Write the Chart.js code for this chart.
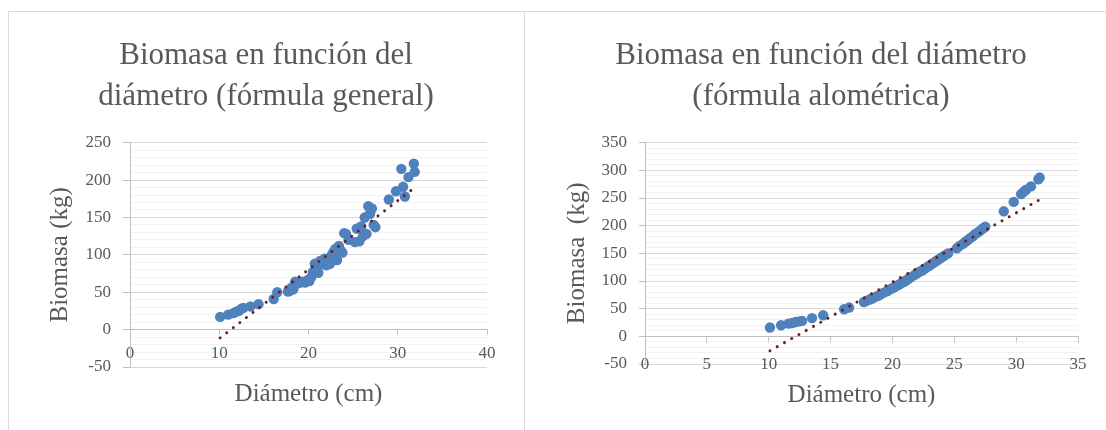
<!DOCTYPE html>
<html lang="es">
<head>
<meta charset="utf-8">
<script src="https://cdn.jsdelivr.net/npm/chart.js@4.4.1/dist/chart.umd.min.js"></script>
<style>
  body { margin: 0; background: #fff; width: 1106px; height: 430px; overflow: hidden; position: relative; }
  .marco { position: absolute; top: 11px; height: 419px; border-top: 1px solid #d9d9d9; }
  #marcoIzq { left: 8px; width: 515px; border-left: 1px solid #d9d9d9; border-right: 1px solid #d9d9d9; }
  #marcoDer { left: 524px; width: 582px; }
  canvas { position: absolute; top: 0; left: 0; }
</style>
</head>
<body>
<div class="marco" id="marcoIzq"><canvas id="general" width="515" height="418"></canvas></div>
<div class="marco" id="marcoDer"><canvas id="alometrica" width="581" height="418" style="left:1px"></canvas></div>
<script>
// diámetro (cm) de cada árbol, el mismo en las dos gráficas
const diametros = [
  10.1, 11.0, 11.6, 11.9, 12.2, 12.5, 12.7, 13.5, 14.4,
  16.1, 16.5,
  17.7, 17.9, 18.1, 18.3, 18.5, 18.8, 19.0, 19.3, 19.6, 19.9,
  20.1, 20.3, 20.5, 20.7, 20.9, 21.1, 21.3, 21.5, 21.8, 22.0,
  22.2, 22.4, 22.6, 22.8, 23.0, 23.2, 23.4, 23.6, 23.8, 24.0,
  24.2, 24.5, 25.2, 25.4, 25.7, 25.9, 26.1, 26.3, 26.5, 26.7,
  26.9, 27.1, 27.3, 27.5, 29.0, 29.8, 30.4, 30.6, 30.8, 31.2,
  31.8, 31.9,
];

// biomasa (kg) con la fórmula general
const biomasaGeneral = [
  17, 20, 22, 24, 25, 28, 29, 31, 34,
  41, 50,
  51, 52, 56, 54, 64, 62, 63, 64, 63, 66,
  65, 70, 77, 88, 80, 76, 92, 88, 95, 86,
  95, 88, 100, 104, 108, 93, 112, 106, 103, 129,
  128, 120, 117, 135, 118, 138, 125, 150, 128, 165,
  155, 162, 140, 137, 174, 185, 215, 191, 178, 204,
  222, 211,
];

// biomasa (kg) con la fórmula alométrica
const biomasaAlometrica = [
  16, 20, 23, 24, 26, 27, 28, 33, 38,
  49, 52,
  62, 64, 66, 68, 70, 73, 75, 79, 82, 86,
  88, 91, 93, 96, 98, 101, 104, 107, 111, 114,
  117, 119, 122, 125, 128, 131, 134, 137, 140, 143,
  146, 150, 159, 163, 167, 171, 174, 178, 181, 185,
  188, 191, 195, 198, 226, 243, 257, 261, 265, 271,
  284, 287,
];

// extremos de las líneas de tendencia lineal
const tendenciaX = [10.1, 31.9];
const tendenciaGeneral = [-11, 190];
const tendenciaAlometrica = [-26, 247];

const FUENTE = "'Liberation Serif', serif";
const GRIS = '#595959';

function puntos(xs, ys) {
  return xs.map((x, i) => ({ x: x, y: ys[i] }));
}

function crearGrafica(id, p) {
  return new Chart(document.getElementById(id), {
    type: 'scatter',
    data: {
      datasets: [
        {
          label: 'Biomasa',
          data: puntos(diametros, p.valores),
          backgroundColor: '#4f81bd',
          borderColor: '#4f81bd',
          borderWidth: 0,
          pointRadius: 5.2,
          order: 1,
        },
        {
          label: 'Lineal',
          type: 'line',
          data: puntos(tendenciaX, p.tendencia),
          borderColor: '#6e1f1f',
          borderWidth: 3,
          borderDash: [0.01, 8.3],
          borderCapStyle: 'round',
          pointRadius: 0,
          fill: false,
          order: 0,
        },
      ],
    },
    options: {
      responsive: false,
      animation: false,
      devicePixelRatio: 1,
      layout: { padding: p.margen },
      plugins: {
        legend: { display: false },
        tooltip: { enabled: false },
        title: {
          display: true,
          text: p.titulo,
          color: GRIS,
          font: { family: FUENTE, size: 31, weight: 'normal', lineHeight: 1.3 },
          padding: { top: 24, bottom: 26.1 },
        },
      },
      scales: {
        x: {
          type: 'linear',
          position: { y: 0 },
          min: 0,
          max: p.xMax,
          ticks: {
            stepSize: p.xPaso,
            autoSkip: false,
            maxRotation: 0,
            color: GRIS,
            padding: p.xPad,
            font: { family: FUENTE, size: 17 },
          },
          grid: { drawOnChartArea: false, tickLength: p.xTick, color: '#bfbfbf' },
          border: { color: '#bfbfbf' },
          title: {
            display: true,
            text: 'Diámetro (cm)',
            color: GRIS,
            font: { family: FUENTE, size: 25 },
            padding: { top: p.xTitPad, bottom: 0 },
          },
        },
        y: {
          min: -50,
          max: p.yMax,
          afterFit: (s) => { s.width = p.yAncho; },
          ticks: {
            stepSize: 10,
            autoSkip: false,
            color: GRIS,
            padding: 12,
            font: { family: FUENTE, size: 17 },
            callback: (v) => (v % 50 === 0 ? v : ''),
          },
          grid: {
            tickLength: p.yTick,
            color: (c) => (c.tick.value % 50 === 0 ? '#d9d9d9' : '#f2f2f2'),
            tickColor: (c) => (c.tick.value % 50 === 0 ? '#bfbfbf' : 'rgba(0,0,0,0)'),
          },
          border: { color: '#bfbfbf' },
          title: {
            display: true,
            text: p.tituloY,
            color: GRIS,
            font: { family: FUENTE, size: 25 },
            padding: { top: p.yTitPad, bottom: 0 },
          },
        },
      },
    },
  });
}

crearGrafica('general', {
  valores: biomasaGeneral,
  tendencia: tendenciaGeneral,
  titulo: ['Biomasa en función del', 'diámetro (fórmula general)'],
  tituloY: 'Biomasa (kg)',
  xMax: 40, xPaso: 10, yMax: 250,
  margen: { left: 36, right: 37, top: 0, bottom: 63 },
  yAncho: 85, yTick: 7, yTitPad: 0,
  xTick: 5, xPad: 9, xTitPad: 6.6,
});

crearGrafica('alometrica', {
  valores: biomasaAlometrica,
  tendencia: tendenciaAlometrica,
  titulo: ['Biomasa en función del diámetro', '(fórmula alométrica)'],
  tituloY: 'Biomasa  (kg)',
  xMax: 35, xPaso: 5, yMax: 350,
  margen: { left: 39, right: 28, top: 0, bottom: 66 },
  yAncho: 81, yTick: 6, yTitPad: -2,
  xTick: 6, xPad: 12, xTitPad: -6.8,
});
</script>
</body>
</html>
